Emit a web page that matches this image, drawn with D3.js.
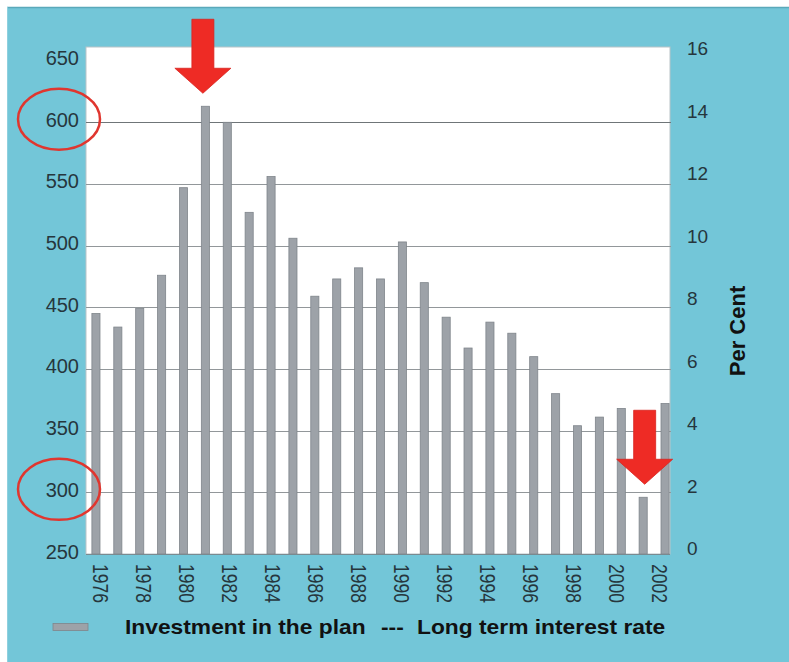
<!DOCTYPE html>
<html>
<head>
<meta charset="utf-8">
<script src="https://cdn.jsdelivr.net/npm/d3@7"></script>
<style>
  html, body { margin: 0; padding: 0; background: #ffffff; }
  svg { display: block; }
  text { font-family: "Liberation Sans", Arial, Helvetica, sans-serif; }
</style>
</head>
<body>
<svg id="chart" width="789" height="662"></svg>
<script>
// Investment in the plan, by year
const years = [1976, 1977, 1978, 1979, 1980, 1981, 1982, 1983, 1984, 1985, 1986, 1987, 1988, 1989,
               1990, 1991, 1992, 1993, 1994, 1995, 1996, 1997, 1998, 1999, 2000, 2001, 2002];
const investment = [445, 434, 449, 476, 547, 613, 600, 527, 556, 506, 459, 473, 482, 473,
                    503, 470, 442, 417, 438, 429, 410, 380, 354, 361, 368, 296, 372];

// Axis ticks
const leftTicks = [250, 300, 350, 400, 450, 500, 550, 600, 650];
const gridTicks = [300, 350, 400, 450, 500, 550, 600];
const rightTicks = [0, 2, 4, 6, 8, 10, 12, 14, 16];
const yearLabels = [1976, 1978, 1980, 1982, 1984, 1986, 1988, 1990, 1992, 1994, 1996, 1998, 2000, 2002];

// Highlighted items
const circledTicks = [600, 300];
const arrowYears = [1981, 2001];

const legendBars = "Investment in the plan";
const legendDash = "---";
const legendRate = "Long term interest rate";
const rightTitle = "Per Cent";

const svg = d3.select("#chart");

const plot = { left: 86, right: 670, top: 47, bottom: 554 };

// background panel
svg.append("rect").attr("x", 7).attr("y", 7).attr("width", 782).attr("height", 655)
  .attr("fill", "#73c6d8");
svg.append("line").attr("x1", 7).attr("x2", 789).attr("y1", 7.5).attr("y2", 7.5)
  .attr("stroke", "#5aa9ba").attr("stroke-width", 1.5);
svg.append("line").attr("x1", 7.5).attr("x2", 7.5).attr("y1", 7).attr("y2", 662)
  .attr("stroke", "#8fd0de").attr("stroke-width", 1);

// plot area
svg.append("rect").attr("x", plot.left).attr("y", plot.top)
  .attr("width", plot.right - plot.left).attr("height", plot.bottom - plot.top)
  .attr("fill", "#ffffff").attr("stroke", "#b9c3c7").attr("stroke-width", 1);

// scales
const x = d3.scaleBand().domain(years).range([85, 676]).paddingInner(0.63).paddingOuter(0.315);
const xLabel = d3.scalePoint().domain(yearLabels).range([101, 660]);
const yL = d3.scaleLinear().domain([250, 600]).range([plot.bottom, 122.3]);
const yR = d3.scaleLinear().domain([0, 16]).range([548.5, 48.8]);

// gridlines
svg.append("g").selectAll("line").data(gridTicks).join("line")
  .attr("x1", plot.left).attr("x2", plot.right + 1)
  .attr("y1", d => Math.round(yL(d)) + 0.5).attr("y2", d => Math.round(yL(d)) + 0.5)
  .attr("stroke", d => d === 600 ? "#6f7578" : "#92979a").attr("stroke-width", 1.2);

// bars
svg.append("g").selectAll("rect").data(years).join("rect")
  .attr("x", d => x(d))
  .attr("width", x.bandwidth())
  .attr("y", (d, i) => yL(investment[i]))
  .attr("height", (d, i) => plot.bottom - yL(investment[i]))
  .attr("fill", "#9da2a8").attr("stroke", "#7f858b").attr("stroke-width", 0.8);

// bottom axis line
svg.append("line").attr("x1", plot.left).attr("x2", plot.right)
  .attr("y1", plot.bottom + 0.5).attr("y2", plot.bottom + 0.5)
  .attr("stroke", "#7a8a90").attr("stroke-width", 1);

// left axis labels
svg.append("g").selectAll("text").data(leftTicks).join("text")
  .attr("x", 79).attr("y", d => yL(d) - 2.5).attr("dy", "0.35em")
  .attr("text-anchor", "end").attr("font-size", 20).attr("fill", "#26363d")
  .text(d => d);

// right axis labels
svg.append("g").selectAll("text").data(rightTicks).join("text")
  .attr("x", 687).attr("y", d => yR(d)).attr("dy", "0.35em")
  .attr("text-anchor", "start").attr("font-size", 19).attr("fill", "#26363d")
  .text(d => d);

// right axis title
svg.append("text")
  .attr("transform", "translate(737,331) rotate(-90)")
  .attr("dy", "0.35em").attr("text-anchor", "middle")
  .attr("font-size", 22).attr("font-weight", "bold").attr("fill", "#111")
  .text(rightTitle);

// year labels (rotated)
svg.append("g").selectAll("text").data(yearLabels).join("text")
  .attr("transform", d => `translate(${xLabel(d)},564) scale(1.3,1) rotate(90)`)
  .attr("dy", "0.35em").attr("text-anchor", "start")
  .attr("font-size", 17.5).attr("fill", "#26363d")
  .text(d => d);

// legend
svg.append("rect").attr("x", 53).attr("y", 623.5).attr("width", 35).attr("height", 7)
  .attr("fill", "#9da2a8").attr("stroke", "#7f858b").attr("stroke-width", 0.8);
const legendItems = [
  { label: legendBars, x: 125 },
  { label: legendDash, x: 381 },
  { label: legendRate, x: 417 }
];
svg.append("g").selectAll("text").data(legendItems).join("text")
  .attr("transform", d => `translate(${d.x},634) scale(1.14,1)`)
  .attr("font-size", 20).attr("font-weight", "bold").attr("fill", "#111")
  .text(d => d.label);

// red circles round highlighted ticks
svg.append("g").selectAll("ellipse").data(circledTicks).join("ellipse")
  .attr("cx", 59).attr("cy", d => yL(d) - 3)
  .attr("rx", 41).attr("ry", 30.5)
  .attr("fill", "none").attr("stroke", "#e0362f").attr("stroke-width", 2.5);

// red arrows pointing at highlighted bars
const arrowPath = (cx, tipY) => {
  const headH = 25, shaftLen = 49, shaftW = 11, headW = 28;
  const headTop = tipY - headH, top = headTop - shaftLen;
  return `M${cx - shaftW},${top} L${cx + shaftW},${top} L${cx + shaftW},${headTop}
          L${cx + headW},${headTop} L${cx},${tipY} L${cx - headW},${headTop}
          L${cx - shaftW},${headTop} Z`;
};
svg.append("g").selectAll("path").data(arrowYears).join("path")
  .attr("d", d => {
    const i = years.indexOf(d);
    const cx = x(d) + x.bandwidth() / 2 - (d === 1981 ? 2.5 : -1.5);
    return arrowPath(cx, yL(investment[i]) - 13);
  })
  .attr("fill", "#ee2b25").attr("stroke", "#d8231e").attr("stroke-width", 0.8);
</script>
</body>
</html>
